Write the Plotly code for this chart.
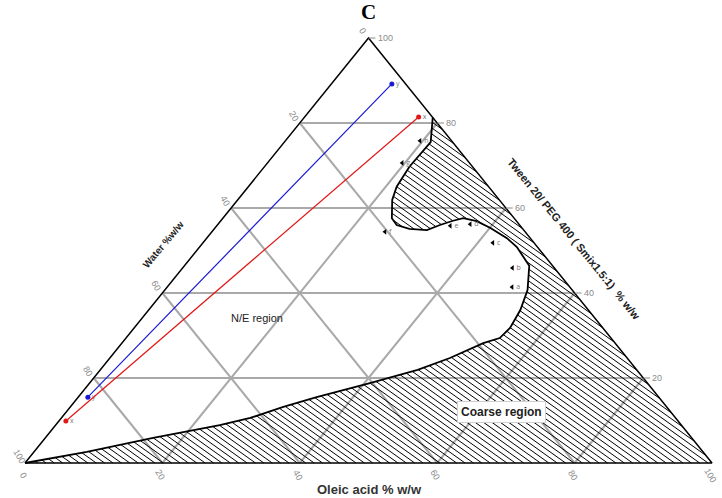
import numpy as np
import plotly.graph_objects as go

# Phase boundary of the nanoemulsion (N/E) region, % w/w (water = 100 - oleic - smix)
boundary_oleic = [18.7, 21.3, 21.1, 21.6, 22.5, 24.6, 26.1, 28.4, 31.1, 32.4, 33.8, 35.0,
                  37.3, 40.1, 43.7, 46.2, 50.2, 52.8, 54.1, 54.7, 54.4, 52.6, 49.5, 46.2,
                  40.8, 34.7, 31.0, 27.5, 23.9, 15.7, 7.7, 3.5, 0.0]
boundary_smix = [81.3, 75.5, 69.7, 65.0, 61.9, 57.6, 56.0, 55.1, 54.8, 56.0, 57.0, 57.6,
                 56.9, 55.3, 52.9, 50.8, 46.4, 40.7, 36.0, 31.8, 29.4, 28.2, 24.7, 21.9,
                 18.8, 15.5, 13.2, 10.6, 8.9, 5.9, 2.6, 1.2, 0.0]

# Water dilution lines (oil : Smix kept constant)
blue_oleic = [8.8, 1.4]
blue_smix = [89.2, 15.5]
blue_labels = ["y", "y"]
red_oleic = [16.6, 1.0]
red_smix = [81.4, 9.9]
red_labels = ["x", "x"]

# Selected formulations
form_oleic = [50.2, 48.0, 42.2, 36.7, 34.0, 25.2, 19.6, 19.6]
form_smix = [41.4, 45.9, 51.8, 56.2, 55.8, 54.4, 70.6, 75.8]
form_labels = ["a", "b", "c", "d", "e", "f", "g", "h"]

ticks = [0, 20, 40, 60, 80, 100]
grid_vals = [20, 40, 60, 80]

W, H = 722, 498
# pixel anchors of the triangle: left vertex, right vertex, apex height
PX_L, PX_R, PY_B, PY_T = 25, 712, 463, 38


def cart(oleic, smix):
    o = np.asarray(oleic, float)
    s = np.asarray(smix, float)
    return o + s / 2.0, s


sx = (PX_R - PX_L) / 100.0
sy = (PY_B - PY_T) / 100.0
x_range = [-PX_L / sx, (W - PX_L) / sx]
y_range = [-(H - PY_B) / sy, PY_B / sy]


def paper(px, py):
    return px / W, 1 - py / H


fig = go.Figure()

# grid lines: constant Smix, constant oleic acid, constant water
gx, gy = [], []
for v in grid_vals:
    for (o1, s1, o2, s2) in [(0, v, 100 - v, v), (v, 0, v, 100 - v), (100 - v, 0, 0, 100 - v)]:
        x, y = cart([o1, o2], [s1, s2])
        gx += list(x) + [None]
        gy += list(y) + [None]
fig.add_trace(go.Scatter(x=gx, y=gy, mode="lines", line=dict(color="#a9a9a9", width=2),
                         hoverinfo="skip", showlegend=False))

# hatched coarse region: outside the boundary, down to the oleic acid vertex
bx, by = cart(boundary_oleic + [100.0], boundary_smix + [0.0])
poly = np.column_stack([bx, by])
m = -2.0 / np.sqrt(3.0)
step = 1.22 * (-m)
c_vals = poly[:, 1] - m * poly[:, 0]
hx, hy = [], []
for c in np.arange(c_vals.min() + step * 0.5, c_vals.max(), step):
    xs = []
    n = len(poly)
    for i in range(n):
        (x1, y1), (x2, y2) = poly[i], poly[(i + 1) % n]
        f1 = y1 - m * x1 - c
        f2 = y2 - m * x2 - c
        if (f1 > 0) != (f2 > 0):
            t = f1 / (f1 - f2)
            xs.append(x1 + t * (x2 - x1))
    xs.sort()
    for k in range(0, len(xs) - 1, 2):
        hx += [xs[k], xs[k + 1], None]
        hy += [m * xs[k] + c, m * xs[k + 1] + c, None]
fig.add_trace(go.Scatter(x=hx, y=hy, mode="lines", line=dict(color="black", width=1),
                         hoverinfo="skip", showlegend=False))

# phase boundary
ex, ey = cart(boundary_oleic, boundary_smix)
fig.add_trace(go.Scatter(x=ex, y=ey, mode="lines", line=dict(color="black", width=1.8),
                         showlegend=False))

# triangle frame
tx, ty = cart([0, 100, 0, 0], [0, 0, 100, 0])
fig.add_trace(go.Scatter(x=tx, y=ty, mode="lines", line=dict(color="black", width=1.5),
                         showlegend=False))

# right-axis tick marks
rx, ry = [], []
for t in ticks[1:]:
    x, y = cart([100 - t], [t])
    rx += [x[0], x[0] + 1.0, None]
    ry += [y[0], y[0], None]
fig.add_trace(go.Scatter(x=rx, y=ry, mode="lines", line=dict(color="#888", width=1),
                         showlegend=False))

# dilution lines
for ol, sm, lab, col in [(blue_oleic, blue_smix, blue_labels, "#1a1ad6"),
                         (red_oleic, red_smix, red_labels, "#e01818")]:
    x, y = cart(ol, sm)
    fig.add_trace(go.Scatter(x=x, y=y, mode="lines+markers+text", text=lab,
                             textposition="middle right",
                             textfont=dict(size=7, color="#777"),
                             line=dict(color=col, width=1.2),
                             marker=dict(color=col, size=5), showlegend=False))

# formulations
fx, fy = cart(form_oleic, form_smix)
fig.add_trace(go.Scatter(x=fx, y=fy, mode="markers+text", text=form_labels,
                         textposition="middle right", textfont=dict(size=7, color="#777"),
                         marker=dict(color="black", size=5, symbol="triangle-left"),
                         showlegend=False))

ann = []
lab_font = dict(family="Liberation Sans, Arial", size=9, color="#8a8a8a")
# water axis labels (left edge)
for t in ticks:
    x, y = cart([0], [100 - t])
    ann.append(dict(x=x[0], y=y[0], xref="x", yref="y", text=str(t), showarrow=False,
                    xanchor="center", yanchor="middle",
                    xshift=-6, yshift=7, textangle=60, font=lab_font))
# Smix axis labels (right edge)
for t in ticks[1:]:
    x, y = cart([100 - t], [t])
    ann.append(dict(x=x[0], y=y[0], xref="x", yref="y", text=str(t), showarrow=False,
                    xanchor="left", yanchor="middle", xshift=7, yshift=0, font=lab_font))
# oleic acid axis labels (bottom edge)
for t in ticks:
    x, y = cart([t], [0])
    ann.append(dict(x=x[0], y=y[0], xref="x", yref="y", text=str(t), showarrow=False,
                    xanchor="center", yanchor="middle",
                    xshift=-2, yshift=-12, textangle=60, font=lab_font))


def note(px, py, text, font, **kw):
    xp, yp = paper(px, py)
    ann.append(dict(x=xp, y=yp, xref="paper", yref="paper", text=text, showarrow=False,
                    xanchor="center", yanchor="middle", font=font, **kw))


note(163, 244, "<b>Water %w/w</b>",
     dict(family="Liberation Sans, Arial", size=10, color="#222"), textangle=-50)
note(574, 239, "<b>Tween 20/ PEG 400 ( Smix1.5:1)  % w/w</b>",
     dict(family="Liberation Sans, Arial", size=11, color="#222"), textangle=51)
note(369, 489, "<b>Oleic acid % w/w</b>",
     dict(family="Liberation Sans, Arial", size=13, color="#333"))
note(368, 12, "<b>C</b>",
     dict(family="Liberation Serif, Times New Roman", size=21, color="black"))
note(257, 318, "N/E region",
     dict(family="Liberation Sans, Arial", size=11, color="#222"))
note(501, 412, "<b>Coarse region</b>",
     dict(family="Liberation Sans, Arial", size=12, color="#222"),
     bgcolor="white", bordercolor="#cfcfcf", borderwidth=1, borderpad=3)

fig.update_layout(
    width=W, height=H, margin=dict(l=0, r=0, t=0, b=0),
    paper_bgcolor="white", plot_bgcolor="white",
    xaxis=dict(range=x_range, visible=False, fixedrange=True),
    yaxis=dict(range=y_range, visible=False, fixedrange=True),
    annotations=ann, showlegend=False,
)

fig.write_html("out.html")
